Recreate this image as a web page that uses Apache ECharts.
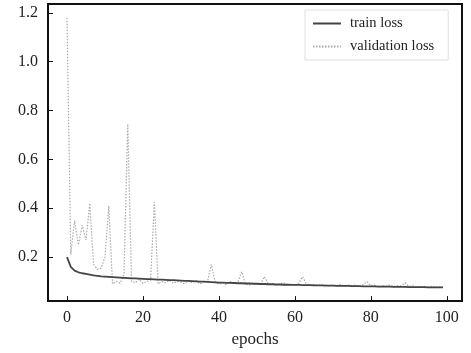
<!DOCTYPE html>
<html>
<head>
<meta charset="utf-8">
<script src="https://cdn.jsdelivr.net/npm/echarts@6/dist/echarts.min.js"></script>
<style>html,body{margin:0;padding:0;background:#fff;}#c{width:471px;height:353px;}</style>
</head>
<body>
<div id="c"></div>
<script>
const epochs = Array.from({length: 100}, (_, i) => i);
const trainLoss = [
0.200,0.160,0.145,0.138,0.134,0.131,0.128,0.125,0.123,0.121,
0.120,0.119,0.118,0.117,0.116,0.115,0.114,0.113,0.113,0.112,
0.111,0.110,0.110,0.109,0.108,0.108,0.107,0.106,0.106,0.105,
0.104,0.103,0.103,0.102,0.101,0.100,0.100,0.099,0.098,0.097,
0.096,0.096,0.095,0.095,0.094,0.093,0.093,0.092,0.092,0.091,
0.091,0.090,0.090,0.089,0.089,0.088,0.088,0.087,0.087,0.086,
0.086,0.086,0.085,0.085,0.085,0.084,0.084,0.084,0.083,0.083,
0.083,0.082,0.082,0.082,0.082,0.081,0.081,0.081,0.080,0.080,
0.080,0.080,0.079,0.079,0.079,0.079,0.078,0.078,0.078,0.078,
0.077,0.077,0.077,0.077,0.077,0.076,0.076,0.076,0.076,0.076
];
const valLoss = [
1.18,0.21,0.35,0.25,0.33,0.27,0.42,0.17,0.15,0.155,
0.20,0.41,0.09,0.10,0.093,0.13,0.745,0.10,0.095,0.11,
0.092,0.10,0.105,0.425,0.09,0.10,0.095,0.105,0.093,0.10,
0.098,0.09,0.102,0.095,0.105,0.09,0.098,0.10,0.17,0.10,
0.09,0.095,0.088,0.10,0.092,0.098,0.14,0.09,0.085,0.095,
0.088,0.092,0.12,0.09,0.093,0.087,0.09,0.095,0.088,0.09,
0.085,0.092,0.12,0.09,0.085,0.088,0.083,0.087,0.085,0.082,
0.086,0.084,0.088,0.082,0.085,0.083,0.086,0.08,0.088,0.10,
0.082,0.085,0.079,0.083,0.081,0.086,0.08,0.083,0.082,0.095,
0.08,0.082,0.078,0.08,0.079,0.078,0.08,0.077,0.078,0.077
];
const xTicks = [0, 20, 40, 60, 80, 100];
const yTicks = [0.2, 0.4, 0.6, 0.8, 1.0, 1.2];
const seriesNames = ['train loss', 'validation loss'];

const font = 'Liberation Serif, Times New Roman, serif';
const chart = echarts.init(document.getElementById('c'));
chart.setOption({
  animation: false,
  grid: {left: 48, right: 9, top: 4, bottom: 45, show: true, borderColor: '#111', borderWidth: 2},
  legend: {
    orient: 'vertical', left: 305, top: 10, width: 150,
    itemWidth: 28, itemHeight: 10, itemGap: 8,
    padding: [6, 14, 6, 7],
    borderColor: '#e0e0e0', borderWidth: 1,
    itemStyle: {opacity: 0},
    textStyle: {fontFamily: font, fontSize: 14.5, color: '#222', padding: [0, 0, 0, 4]},
    data: seriesNames
  },
  xAxis: {
    type: 'value', min: -5, max: 104,
    name: 'epochs', nameLocation: 'middle', nameGap: 24,
    nameTextStyle: {fontFamily: font, fontSize: 17, color: '#222'},
    axisLine: {show: true, onZero: false, lineStyle: {color: '#111', width: 2}},
    axisTick: {show: true, inside: true, length: 5, customValues: xTicks, lineStyle: {color: '#111'}},
    axisLabel: {customValues: xTicks, fontFamily: font, fontSize: 16, color: '#222', margin: 9},
    splitLine: {show: false}
  },
  yAxis: {
    type: 'value', min: 0.02, max: 1.236,
    axisLine: {show: true, onZero: false, lineStyle: {color: '#111', width: 2}},
    axisTick: {show: true, inside: true, length: 5, customValues: yTicks, lineStyle: {color: '#111'}},
    axisLabel: {customValues: yTicks, fontFamily: font, fontSize: 16, color: '#222', margin: 10,
      formatter: v => v.toFixed(1)},
    splitLine: {show: false}
  },
  series: [
    {name: seriesNames[0], type: 'line', symbol: 'none', z: 3,
     data: epochs.map((e, i) => [e, trainLoss[i]]),
     lineStyle: {color: '#444', width: 1.8}, itemStyle: {color: '#444'}},
    {name: seriesNames[1], type: 'line', symbol: 'none', z: 2,
     data: epochs.map((e, i) => [e, valLoss[i]]),
     lineStyle: {color: '#aaa', width: 1.2, type: [1.5, 1.5]}, itemStyle: {color: '#aaa'}}
  ]
});
</script>
</body>
</html>
